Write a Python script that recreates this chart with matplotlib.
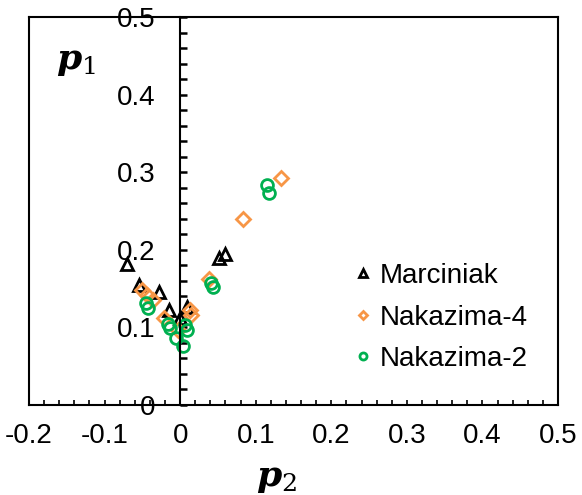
import matplotlib.pyplot as plt
from matplotlib.ticker import MultipleLocator

plt.rcParams['font.family'] = ['Liberation Sans', 'DejaVu Sans']
plt.rcParams['mathtext.fontset'] = 'dejavuserif'

# data (p2, p1)
marciniak_p2 = [-0.070, -0.054, -0.028, -0.015, 0.000, 0.009, 0.051, 0.059]
marciniak_p1 = [0.182, 0.154, 0.145, 0.122, 0.112, 0.126, 0.190, 0.194]

nak4_p2 = [-0.050, -0.044, -0.036, -0.021, -0.003, 0.013, 0.015, 0.038, 0.083, 0.134]
nak4_p1 = [0.148, 0.142, 0.135, 0.112, 0.097, 0.122, 0.116, 0.163, 0.240, 0.292]

nak2_p2 = [-0.045, -0.043, -0.016, -0.014, -0.005, 0.004, 0.007, 0.009, 0.041, 0.043, 0.115, 0.117]
nak2_p1 = [0.131, 0.125, 0.105, 0.099, 0.086, 0.076, 0.103, 0.097, 0.157, 0.152, 0.283, 0.273]

xticks = [-0.2, -0.1, 0, 0.1, 0.2, 0.3, 0.4, 0.5]
xticklabels = ['-0.2', '-0.1', '0', '0.1', '0.2', '0.3', '0.4', '0.5']
yticks = [0, 0.1, 0.2, 0.3, 0.4, 0.5]
yticklabels = ['0', '0.1', '0.2', '0.3', '0.4', '0.5']

orange = '#F79646'
green = '#00B050'

fig = plt.figure(figsize=(5.82, 4.95), dpi=100)
ax = fig.add_axes([29/582, 1-405/495, (558-29)/582, (405-17)/495])

ax.plot(marciniak_p2, marciniak_p1, ls='none', marker='^', ms=9, mfc='none',
        mec='black', mew=2, label='Marciniak')
ax.plot(nak4_p2, nak4_p1, ls='none', marker='D', ms=7.5, mfc='none',
        mec=orange, mew=2, label='Nakazima-4')
ax.plot(nak2_p2, nak2_p1, ls='none', marker='o', ms=8.5, mfc='none',
        mec=green, mew=2, label='Nakazima-2')

ax.set_xlim(-0.2, 0.5)
ax.set_ylim(0, 0.5)

# y axis crosses at x = 0, plot area keeps a full border
ax.spines['left'].set_position(('data', 0))
for s in ax.spines.values():
    s.set_linewidth(1.5)
ax.axvline(-0.2, color='black', lw=1.5, clip_on=False)

ax.set_xticks(xticks)
ax.set_xticklabels(xticklabels)
ax.set_yticks(yticks)
ax.set_yticklabels(yticklabels)
ax.xaxis.set_minor_locator(MultipleLocator(0.02))
ax.yaxis.set_minor_locator(MultipleLocator(0.02))
ax.tick_params(axis='x', which='both', direction='in', length=3.5, width=1.2,
               labelsize=20, pad=13)
ax.tick_params(axis='y', which='both', direction='in', length=5, width=1.8,
               labelsize=20, pad=18)

fig.text(0.13, 0.878, r'$\mathbfit{p}_{1}$', fontsize=26, ha='center', va='center')
fig.text(0.475, 0.036, r'$\mathbfit{p}_{2}$', fontsize=26, ha='center', va='center')

ax.legend(loc='upper left', bbox_to_anchor=(355/582, 1-263/495),
          bbox_transform=fig.transFigure, frameon=False, fontsize=20,
          markerscale=0.6, handlelength=0.6, handletextpad=0.3,
          borderpad=0, labelspacing=0.56, borderaxespad=0)

fig.savefig('out.png', dpi=100)
